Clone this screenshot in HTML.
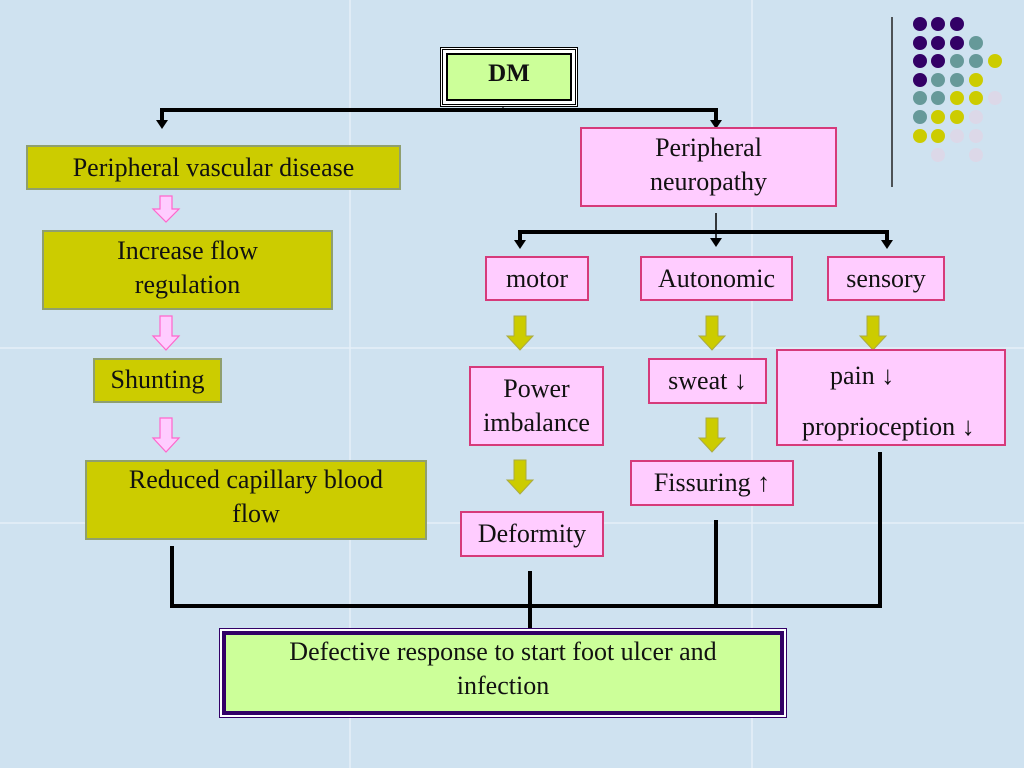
<!DOCTYPE html>
<html><head><meta charset="utf-8"><style>
body{margin:0;width:1024px;height:768px;overflow:hidden;background:#cfe2f0;position:relative;font-family:"Liberation Serif","Times New Roman",serif;color:#111}
.b{position:absolute;box-sizing:border-box;display:flex;align-items:center;justify-content:center;text-align:center;font-size:26px;line-height:34px;white-space:nowrap}
.y{background:#cccc00;border:2px solid #8f9f6f}
.p{background:#ffccff;border:2px solid #d63a7a}
svg{position:absolute;left:0;top:0}
</style></head><body>
<svg width="1024" height="768">
<g stroke="#e6f0f8" stroke-width="1.5"><line x1="350" y1="0" x2="350" y2="768"/><line x1="752" y1="0" x2="752" y2="768"/><line x1="0" y1="348" x2="1024" y2="348"/><line x1="0" y1="523" x2="1024" y2="523"/></g>
<line x1="892" y1="17" x2="892" y2="187" stroke="#222" stroke-width="1.5"/>
<g>
<circle cx="920" cy="24" r="7" fill="#330066"/><circle cx="938" cy="24" r="7" fill="#330066"/><circle cx="957" cy="24" r="7" fill="#330066"/>
<circle cx="920" cy="43" r="7" fill="#330066"/><circle cx="938" cy="43" r="7" fill="#330066"/><circle cx="957" cy="43" r="7" fill="#330066"/><circle cx="976" cy="43" r="7" fill="#669999"/>
<circle cx="920" cy="61" r="7" fill="#330066"/><circle cx="938" cy="61" r="7" fill="#330066"/><circle cx="957" cy="61" r="7" fill="#669999"/><circle cx="976" cy="61" r="7" fill="#669999"/><circle cx="995" cy="61" r="7" fill="#cccc00"/>
<circle cx="920" cy="80" r="7" fill="#330066"/><circle cx="938" cy="80" r="7" fill="#669999"/><circle cx="957" cy="80" r="7" fill="#669999"/><circle cx="976" cy="80" r="7" fill="#cccc00"/>
<circle cx="920" cy="98" r="7" fill="#669999"/><circle cx="938" cy="98" r="7" fill="#669999"/><circle cx="957" cy="98" r="7" fill="#cccc00"/><circle cx="976" cy="98" r="7" fill="#cccc00"/><circle cx="995" cy="98" r="7" fill="#dcd8e8"/>
<circle cx="920" cy="117" r="7" fill="#669999"/><circle cx="938" cy="117" r="7" fill="#cccc00"/><circle cx="957" cy="117" r="7" fill="#cccc00"/><circle cx="976" cy="117" r="7" fill="#dcd8e8"/>
<circle cx="920" cy="136" r="7" fill="#cccc00"/><circle cx="938" cy="136" r="7" fill="#cccc00"/><circle cx="957" cy="136" r="7" fill="#dcd8e8"/><circle cx="976" cy="136" r="7" fill="#dcd8e8"/>
<circle cx="938" cy="155" r="7" fill="#dcd8e8"/><circle cx="976" cy="155" r="7" fill="#dcd8e8"/>
</g>
<g stroke="#000" stroke-width="4" fill="none">
<polyline points="162,122 162,110 716,110 716,122"/>
<polyline points="520,244 520,232 887,232 887,244"/>
<line x1="172" y1="546" x2="172" y2="606"/><line x1="530" y1="571" x2="530" y2="630"/>
<line x1="716" y1="520" x2="716" y2="606"/><line x1="880" y1="452" x2="880" y2="606"/>
<line x1="170" y1="606" x2="882" y2="606"/>
</g>
<line x1="503" y1="97" x2="503" y2="111" stroke="#000" stroke-width="1"/>
<line x1="716" y1="213" x2="716" y2="240" stroke="#000" stroke-width="1.5"/>
<g fill="#000"><polygon points="156,120 168,120 162,129"/><polygon points="710,120 722,120 716,129"/>
<polygon points="514,240 526,240 520,249"/><polygon points="710,238 722,238 716,247"/><polygon points="881,240 893,240 887,249"/></g>
<g fill="#ffccff" stroke="#ff66cc" stroke-width="1.2">
<polygon points="160,196 172,196 172,209 179,209 166,222 153,209 160,209"/>
<polygon points="160,316 172,316 172,336 179,336 166,350 153,336 160,336"/>
<polygon points="160,418 172,418 172,438 179,438 166,452 153,438 160,438"/>
</g>
<g fill="#cccc00" stroke="#aaaa44" stroke-width="1">
<polygon points="514,316 526,316 526,336 533,336 520,350 507,336 514,336"/>
<polygon points="706,316 718,316 718,336 725,336 712,350 699,336 706,336"/>
<polygon points="867,316 879,316 879,336 886,336 873,350 860,336 867,336"/>
<polygon points="706,418 718,418 718,438 725,438 712,452 699,438 706,438"/>
<polygon points="514,460 526,460 526,480 533,480 520,494 507,480 514,480"/>
</g>
</svg>
<div class="b" style="left:440px;top:47px;width:138px;height:60px;border:3px double #000;background:#fff;padding:3px"><div style="width:100%;height:100%;border:2px solid #000;background:#ccff99;font-weight:bold;font-size:25px;display:flex;justify-content:center;padding-top:2px;box-sizing:border-box">DM</div></div>
<div class="b y" style="left:26px;top:145px;width:375px;height:45px">Peripheral vascular disease</div>
<div class="b y" style="left:42px;top:230px;width:291px;height:80px;padding-bottom:4px">Increase flow<br>regulation</div>
<div class="b y" style="left:93px;top:358px;width:129px;height:45px;padding-bottom:2px">Shunting</div>
<div class="b y" style="left:85px;top:460px;width:342px;height:80px;padding-bottom:6px">Reduced capillary blood<br>flow</div>
<div class="b p" style="left:580px;top:127px;width:257px;height:80px;padding-bottom:4px">Peripheral<br>neuropathy</div>
<div class="b p" style="left:485px;top:256px;width:104px;height:45px">motor</div>
<div class="b p" style="left:640px;top:256px;width:153px;height:45px">Autonomic</div>
<div class="b p" style="left:827px;top:256px;width:118px;height:45px">sensory</div>
<div class="b p" style="left:469px;top:366px;width:135px;height:80px">Power<br>imbalance</div>
<div class="b p" style="left:648px;top:358px;width:119px;height:46px">sweat ↓</div>
<div class="b p" style="left:776px;top:349px;width:230px;height:97px;display:block"><div style="position:absolute;left:52px;top:8px">pain ↓</div><div style="position:absolute;left:24px;top:59px">proprioception ↓</div></div>
<div class="b p" style="left:630px;top:460px;width:164px;height:46px">Fissuring ↑</div>
<div class="b p" style="left:460px;top:511px;width:144px;height:46px">Deformity</div>
<div class="b" style="left:219px;top:628px;width:568px;height:90px;border:1px solid #330066;background:#fff;padding:2px"><div style="width:100%;height:100%;border:4px solid #330066;background:#ccff99;box-sizing:border-box;display:flex;align-items:center;justify-content:center;padding-bottom:8px">Defective response to start foot ulcer and<br>infection</div></div>
</body></html>
